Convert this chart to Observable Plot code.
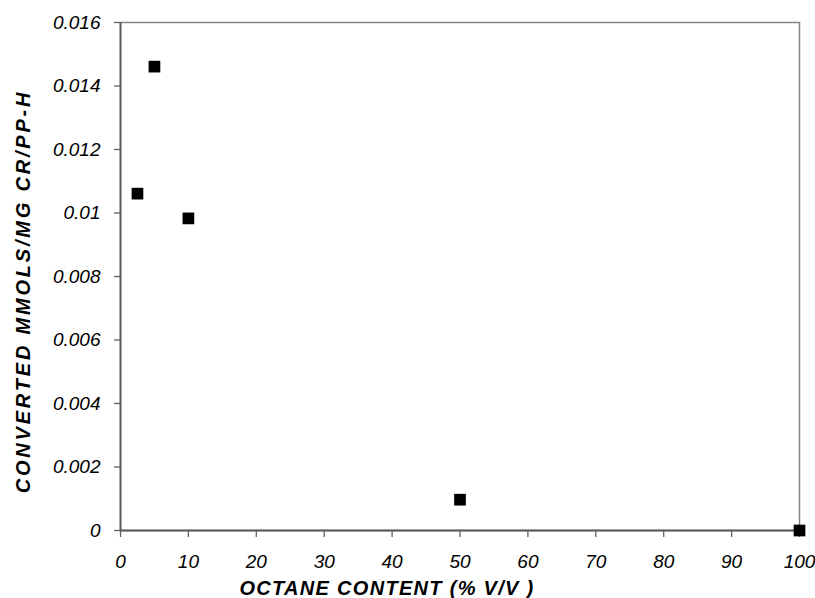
<!DOCTYPE html>
<html><head><meta charset="utf-8">
<script src="https://cdn.jsdelivr.net/npm/d3@7"></script>
<script src="https://cdn.jsdelivr.net/npm/@observablehq/plot@0.6"></script>
<style>
body{margin:0;background:#fff;}
</style>
</head><body><div id="chart"></div>
<script>
const octane = [2.5, 5, 10, 50, 100];
const converted = [0.01061, 0.01461, 0.00983, 0.00097, 0.0];
const xTicks = [0,10,20,30,40,50,60,70,80,90,100];
const yTicks = [0,0.002,0.004,0.006,0.008,0.01,0.012,0.014,0.016];
const xTitle = "OCTANE CONTENT (% V/V )";
const yTitle = "CONVERTED MMOLS/MG CR/PP-H";
const data = octane.map((x,i)=>({x, y: converted[i]}));

const chart = Plot.plot({
  width: 815, height: 598,
  marginLeft: 120, marginRight: 16, marginTop: 22, marginBottom: 68,
  style: {fontFamily: "Liberation Sans, Arial, sans-serif", fontSize: "19px", fontStyle: "italic", color: "#000", background: "#fff"},
  x: {domain: [0,100]},
  y: {domain: [0,0.016]},
  marks: [
    Plot.frame({stroke: "#858585", strokeWidth: 1.5, strokeOpacity: 1}),
    Plot.ruleY([0], {stroke: "#5a5a5a", strokeWidth: 1.8}),
    Plot.ruleX([0], {stroke: "#5a5a5a", strokeWidth: 1.8}),
    Plot.axisX({ticks: xTicks, tickSize: 7, tickPadding: 17, stroke: "#606060", strokeOpacity: 1, strokeWidth: 1.3,
      label: null, fontSize: 19}),
    Plot.axisY({ticks: yTicks, tickSize: 6, tickPadding: 14, stroke: "#606060", strokeOpacity: 1, strokeWidth: 1.3,
      tickFormat: d => String(+d.toFixed(3)), label: null, fontSize: 19}),
    Plot.text([xTitle], {text: d => d, frameAnchor: "bottom", textAnchor: "middle", dx: -73, dy: 58, lineAnchor: "middle",
      fontSize: 20, fontWeight: "bold", fontStyle: "italic", fill: "#000"}),
    Plot.text([yTitle], {text: d => d, frameAnchor: "left", textAnchor: "middle", rotate: -90, dx: -97, dy: 15, lineAnchor: "middle",
      fontSize: 20, fontWeight: "bold", fontStyle: "italic", fill: "#000"}),
    Plot.dot(data, {x: "x", y: "y", symbol: "square", r: 6.6, fill: "#000", stroke: null, clip: false})
  ]
});
d3.select(chart).selectAll("text").filter(function(){ return this.textContent === xTitle; }).style("letter-spacing", "1.3px");
d3.select(chart).selectAll("text").filter(function(){ return this.textContent === yTitle; }).style("letter-spacing", "2.8px");
document.getElementById("chart").appendChild(chart);
</script>
</body></html>
